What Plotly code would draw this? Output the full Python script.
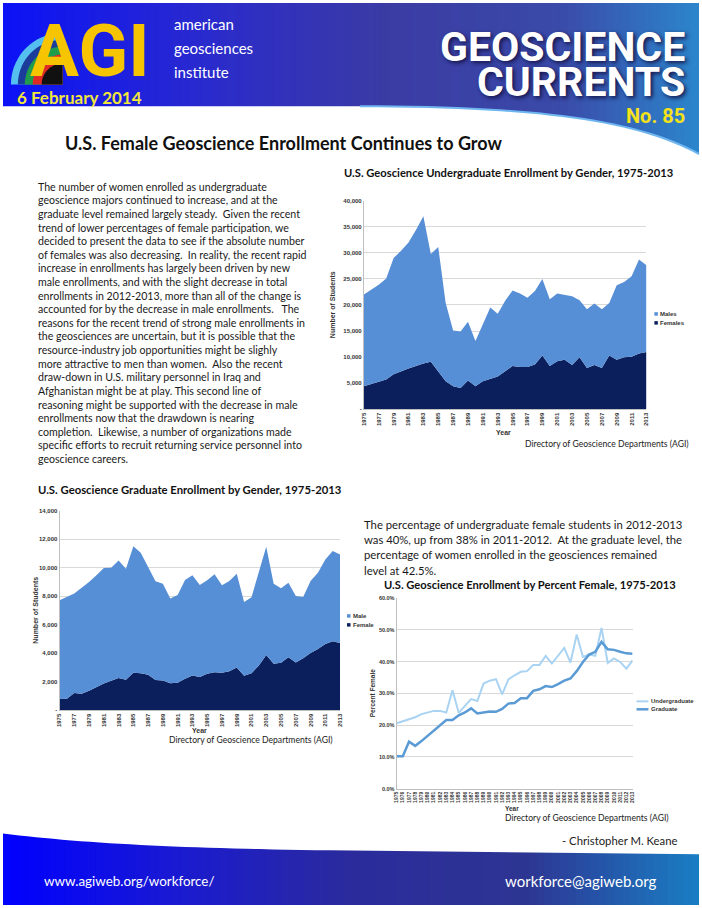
import math
import plotly.graph_objects as go

W, H = 702, 908

# ---------------- data ----------------
years = list(range(1975, 2014))

ug_females = [4400, 4800, 5300, 5700, 6700, 7300, 7800, 8300, 8800, 9100,
              7200, 5400, 4400, 4100, 5500, 4400, 5400, 5800, 6300, 7300,
              8300, 8100, 8100, 8600, 10300, 8300, 9200, 9500, 8500, 10000,
              7900, 8500, 7900, 10300, 9500, 10000, 10100, 10700, 11000]
ug_males = [17600, 18200, 18600, 19400, 22300, 23100, 24200, 26100, 28200, 20700,
            23900, 15000, 10700, 10800, 11300, 8700, 10900, 13700, 12000, 13500,
            14500, 14100, 13300, 14100, 14700, 12800, 13000, 12400, 13200, 10900,
            11300, 11800, 11300, 10100, 14300, 14400, 15400, 18000, 16600]

gr_females = [790, 810, 1210, 1160, 1370, 1630, 1880, 2070, 2260, 2140,
              2630, 2600, 2490, 2120, 2090, 1900, 1930, 2210, 2440, 2330,
              2560, 2670, 2630, 2740, 3000, 2420, 2600, 3140, 3880, 3260,
              3330, 3720, 3350, 3650, 4020, 4300, 4650, 4840, 4720]
gr_males = [6930, 7170, 6980, 7440, 7630, 7840, 8100, 7930, 8240, 7790,
            8870, 8450, 7510, 6930, 6790, 5940, 6160, 6930, 7030, 6460,
            6560, 6860, 6140, 6330, 6580, 5180, 5330, 6510, 7590, 5620,
            5230, 5230, 4670, 4300, 5050, 5350, 5930, 6320, 6210]

pct_undergrad = [20.6, 21.3, 21.9, 22.5, 23.5, 24.1, 24.5, 24.5, 24.0, 31.0,
                 23.9, 26.1, 28.2, 27.6, 33.1, 34.0, 34.5, 29.7, 34.4, 35.7,
                 36.8, 37.0, 38.9, 38.9, 41.8, 39.4, 41.8, 44.3, 39.7, 48.5,
                 41.5, 42.2, 41.8, 50.6, 39.6, 41.0, 39.9, 37.8, 40.4]
pct_graduate = [10.2, 10.2, 14.8, 13.5, 15.0, 16.6, 18.5, 20.1, 21.6, 21.6,
                23.1, 24.0, 25.3, 23.7, 24.0, 24.3, 24.2, 25.1, 26.8, 27.0,
                28.5, 28.5, 30.8, 31.3, 32.3, 32.0, 32.9, 34.0, 34.7, 37.0,
                39.9, 42.2, 43.1, 46.2, 43.9, 43.7, 43.1, 42.6, 42.5]

ug_yticks = list(range(0, 40001, 5000))
gr_yticks = list(range(0, 14001, 2000))
pct_yticks = [0, 10, 20, 30, 40, 50, 60]
year_ticks_2 = years[::2]

body_lines = [
    "The number of women enrolled as undergraduate",
    "geoscience majors continued to increase, and at the",
    "graduate level remained largely steady.  Given the recent",
    "trend of lower percentages of female participation, we",
    "decided to present the data to see if the absolute number",
    "of females was also decreasing.  In reality, the recent rapid",
    "increase in enrollments has largely been driven by new",
    "male enrollments, and with the slight decrease in total",
    "enrollments in 2012-2013, more than all of the change is",
    "accounted for by the decrease in male enrollments.   The",
    "reasons for the recent trend of strong male enrollments in",
    "the geosciences are uncertain, but it is possible that the",
    "resource-industry job opportunities might be slighly",
    "more attractive to men than women.  Also the recent",
    "draw-down in U.S. military personnel in Iraq and",
    "Afghanistan might be at play. This second line of",
    "reasoning might be supported with the decrease in male",
    "enrollments now that the drawdown is nearing",
    "completion.  Likewise, a number of organizations made",
    "specific efforts to recruit returning service personnel into",
    "geoscience careers.",
]
right_lines = [
    "The percentage of undergraduate female students in 2012-2013",
    "was 40%, up from 38% in 2011-2012.  At the graduate level, the",
    "percentage of women enrolled in the geosciences remained",
    "level at 42.5%.",
]

# ---------------- styling ----------------
MALE_BLUE = "#578fd6"
FEMALE_NAVY = "#0b1f5c"
UG_LINE = "#a9d3f2"
GR_LINE = "#5b9bd5"
GRID = "#d9d9d9"
TICK_FONT = "Liberation Sans"
BODY_FONT = "Lato"


def px(x):
    return x / W


def py(y):
    return 1 - y / H


def hex2rgb(h):
    h = h.lstrip("#")
    return tuple(int(h[i:i + 2], 16) for i in (0, 2, 4))


def lerp(stops, t):
    for (t0, c0), (t1, c1) in zip(stops, stops[1:]):
        if t0 <= t <= t1:
            f = (t - t0) / (t1 - t0) if t1 > t0 else 0
            a, b = hex2rgb(c0), hex2rgb(c1)
            return "rgb(%d,%d,%d)" % tuple(round(a[i] + (b[i] - a[i]) * f) for i in range(3))
    return stops[-1][1]


shapes = []
annotations = []


def gradient_band(y0, y1, stops, n=90):
    for i in range(n):
        x0 = i * W / n
        x1 = (i + 1) * W / n + 0.8
        shapes.append(dict(type="rect", xref="paper", yref="paper", layer="below",
                           x0=px(x0), x1=px(min(x1, W)), y0=py(y1), y1=py(y0),
                           line=dict(width=0), fillcolor=lerp(stops, (i + 0.5) / n)))


def path_from(points):
    return "M " + " L ".join("%.5f,%.5f" % (px(x), py(y)) for x, y in points) + " Z"


def cubic(p0, c1, c2, p1, n=30):
    pts = []
    for k in range(n + 1):
        t = k / n
        x = (1 - t) ** 3 * p0[0] + 3 * (1 - t) ** 2 * t * c1[0] + 3 * (1 - t) * t ** 2 * c2[0] + t ** 3 * p1[0]
        y = (1 - t) ** 3 * p0[1] + 3 * (1 - t) ** 2 * t * c1[1] + 3 * (1 - t) * t ** 2 * c2[1] + t ** 3 * p1[1]
        pts.append((x, y))
    return pts


# header band
gradient_band(0, 165, [(0, "#0b12f6"), (0.3, "#2b2bcc"), (0.55, "#3b3ba4"),
                       (0.8, "#3a4aa8"), (1.0, "#2c86cc")])
hdr_curve = [(0, 104), (360, 104)] + cubic((360, 104), (540, 104), (640, 118), (702, 152))
shapes.append(dict(type="path", xref="paper", yref="paper", layer="below",
                   path=path_from(hdr_curve + [(702, 170), (0, 170)]),
                   fillcolor="white", line=dict(width=0)))
shapes.append(dict(type="path", xref="paper", yref="paper", layer="below",
                   path="M " + " L ".join("%.5f,%.5f" % (px(x), py(y)) for x, y in hdr_curve[2:]),
                   line=dict(color="#6fb6f0", width=2)))

# footer band
gradient_band(825, 908, [(0, "#0000ff"), (0.25, "#1a1ad2"), (0.5, "#2b2b9c"),
                         (0.75, "#2d3592"), (1.0, "#1a7ec4")])
ftr_curve = [(0, 836)] + cubic((0, 836), (80, 846), (180, 851), (330, 853)) + [(702, 857)]
shapes.append(dict(type="path", xref="paper", yref="paper", layer="below",
                   path=path_from([(0, 820), (702, 820)] + ftr_curve[::-1]),
                   fillcolor="white", line=dict(width=0)))

# AGI emblem (quarter rings)
cx, cy = 60, 82
for r, col in [(52, "#55bff0"), (45, "#1c3c9c"), (38, "#1f9c4c"), (30, "#e02a26"), (21, "#111111")]:
    pts = [(cx, cy)] + [(cx - r * math.cos(math.radians(a)), cy - r * math.sin(math.radians(a)))
                        for a in range(0, 91, 5)]
    shapes.append(dict(type="path", xref="paper", yref="paper", layer="below",
                       path=path_from(pts), fillcolor=col, line=dict(width=0)))


def txt(x, y, s, size, color="#111111", family=BODY_FONT, weight="normal",
        xanchor="left", yanchor="middle", textangle=0, shadow=None):
    f = dict(family=family, size=size, color=color, weight=weight)
    if shadow:
        f["shadow"] = shadow
    annotations.append(dict(x=px(x), y=py(y), xref="paper", yref="paper", text=s,
                            showarrow=False, xanchor=xanchor, yanchor=yanchor,
                            font=f, textangle=textangle, borderpad=0))


# header texts
txt(26, 48, "AGI", 73, color="#f6c400", family="Roboto", weight="bold")
txt(171, 21, "american", 15, color="white")
txt(171, 45, "geosciences", 15, color="white")
txt(171, 69, "institute", 15, color="white")
txt(13, 95, "6 February 2014", 17, color="#f3e83a", weight="bold")
txt(689, 44, "GEOSCIENCE", 41, color="white", family="Roboto", weight="bold",
    xanchor="right", shadow="2px 2px 4px #15154a")
txt(689, 80, "CURRENTS", 41, color="white", family="Roboto", weight="bold",
    xanchor="right", shadow="2px 2px 4px #15154a")
txt(689, 114, "No. 85", 20, color="#f5e21a", family="Roboto", weight="bold", xanchor="right")

# main title & text
txt(62, 141, "U.S. Female Geoscience Enrollment Continues to Grow", 18, weight="bold")
for i, line in enumerate(body_lines):
    txt(34, 185 + i * 13.7, line, 10.6, color="#1a1a1a")
for i, line in enumerate(right_lines):
    txt(363, 525 + i * 15.3, line, 11.3, color="#1a1a1a")

# chart titles & captions
txt(343, 171, "U.S. Geoscience Undergraduate Enrollment by Gender, 1975-2013", 11.2, weight="bold")
txt(34, 490, "U.S. Geoscience Graduate Enrollment by Gender, 1975-2013", 11.3, weight="bold")
txt(383, 585, "U.S. Geoscience Enrollment by Percent Female, 1975-2013", 11.2, weight="bold")
txt(693, 444, "Directory of Geoscience Departments (AGI)", 8.6, color="#222", xanchor="right")
txt(334, 742, "Directory of Geoscience Departments (AGI)", 8.6, color="#222", xanchor="right")
txt(673, 820, "Directory of Geoscience Departments (AGI)", 8.6, color="#222", xanchor="right")
txt(681, 843, "- Christopher M. Keane", 11.3, color="#222", xanchor="right")

# footer
txt(40, 884, "www.agiweb.org/workforce/", 13.4, color="white")
txt(661, 884, "workforce@agiweb.org", 15, color="white", xanchor="right")

# axis titles
txt(505, 432, "Year", 7, color="#333", family=TICK_FONT, weight="bold", xanchor="center")
txt(333, 304, "Number of Students", 7, color="#333", family=TICK_FONT, weight="bold",
    xanchor="center", textangle=-90)
txt(198, 732, "Year", 7, color="#333", family=TICK_FONT, weight="bold", xanchor="center")
txt(33, 611, "Number of Students", 7, color="#333", family=TICK_FONT, weight="bold",
    xanchor="center", textangle=-90)
txt(513, 811, "Year", 6.5, color="#333", family=TICK_FONT, weight="bold", xanchor="center")
txt(373, 695, "Percent Female", 6.5, color="#333", family=TICK_FONT, weight="bold",
    xanchor="center", textangle=-90)


# manual legends
def legend_square(x, y, color, label, size=6):
    shapes.append(dict(type="rect", xref="paper", yref="paper", x0=px(x), x1=px(x + 3.5),
                       y0=py(y + 1.75), y1=py(y - 1.75), fillcolor=color, line=dict(width=0)))
    txt(x + 5, y, label, size, color="#333", family=TICK_FONT, weight="bold")


def legend_line(x, y, color, width, label, size=6):
    shapes.append(dict(type="line", xref="paper", yref="paper", x0=px(x), x1=px(x + 12),
                       y0=py(y), y1=py(y), line=dict(color=color, width=width)))
    txt(x + 14, y, label, size, color="#333", family=TICK_FONT, weight="bold")


legend_square(657, 313, MALE_BLUE, "Males")
legend_square(657, 322, FEMALE_NAVY, "Females")
legend_square(347, 617, MALE_BLUE, "Male")
legend_square(347, 626, FEMALE_NAVY, "Female")
legend_line(639, 703, UG_LINE, 2, "Undergraduate")
legend_line(639, 711, GR_LINE, 2.5, "Graduate")

# ---------------- traces ----------------
fig = go.Figure()
fig.add_trace(go.Scatter(x=years, y=ug_females, mode="lines", stackgroup="ug", name="Females",
                         line=dict(width=0, color=FEMALE_NAVY), fillcolor=FEMALE_NAVY,
                         xaxis="x", yaxis="y"))
fig.add_trace(go.Scatter(x=years, y=ug_males, mode="lines", stackgroup="ug", name="Males",
                         line=dict(width=0, color=MALE_BLUE), fillcolor=MALE_BLUE,
                         xaxis="x", yaxis="y"))
fig.add_trace(go.Scatter(x=years, y=gr_females, mode="lines", stackgroup="gr", name="Female",
                         line=dict(width=0, color=FEMALE_NAVY), fillcolor=FEMALE_NAVY,
                         xaxis="x2", yaxis="y2"))
fig.add_trace(go.Scatter(x=years, y=gr_males, mode="lines", stackgroup="gr", name="Male",
                         line=dict(width=0, color=MALE_BLUE), fillcolor=MALE_BLUE,
                         xaxis="x2", yaxis="y2"))
fig.add_trace(go.Scatter(x=years, y=pct_undergrad, mode="lines", name="Undergraduate",
                         line=dict(width=2, color=UG_LINE), xaxis="x3", yaxis="y3"))
fig.add_trace(go.Scatter(x=years, y=pct_graduate, mode="lines", name="Graduate",
                         line=dict(width=2.5, color=GR_LINE), xaxis="x3", yaxis="y3"))


def xcfg(x0, x1, anchor, tickvals, size):
    return dict(domain=[px(x0), px(x1)], anchor=anchor, range=[1975, 2013],
                tickmode="array", tickvals=tickvals, ticktext=[str(v) for v in tickvals],
                tickangle=-90, tickfont=dict(family=TICK_FONT, size=size, color="#333", weight="bold"),
                showgrid=False, showline=True, linecolor="#bfbfbf", linewidth=1,
                ticks="", zeroline=False, fixedrange=True)


def ycfg(ytop, ybot, anchor, rng, tickvals, ticktext, size):
    return dict(domain=[py(ybot), py(ytop)], anchor=anchor, range=rng,
                tickmode="array", tickvals=tickvals, ticktext=ticktext,
                tickfont=dict(family=TICK_FONT, size=size, color="#333", weight="bold"),
                showgrid=True, gridcolor=GRID, gridwidth=1, showline=True,
                linecolor="#bfbfbf", linewidth=1, ticks="", zeroline=False, fixedrange=True)


def thousands(v):
    return "-" if v == 0 else f"{v:,}"


fig.update_layout(
    width=W, height=H, margin=dict(l=0, r=0, t=0, b=0),
    paper_bgcolor="white", plot_bgcolor="white", showlegend=False,
    xaxis=xcfg(364, 649, "y", year_ticks_2, 6),
    yaxis=ycfg(199, 409, "x", [0, 40000], ug_yticks, [thousands(v) for v in ug_yticks], 6),
    xaxis2=xcfg(57, 340, "y2", year_ticks_2, 6),
    yaxis2=ycfg(511, 712, "x2", [0, 14000], gr_yticks, [thousands(v) for v in gr_yticks], 6),
    xaxis3=xcfg(397, 635, "y3", years, 5),
    yaxis3=ycfg(599, 791, "x3", [0, 60], pct_yticks, [f"{v:.1f}%" for v in pct_yticks], 5.5),
    shapes=shapes, annotations=annotations,
)

fig.write_html("out.html")
